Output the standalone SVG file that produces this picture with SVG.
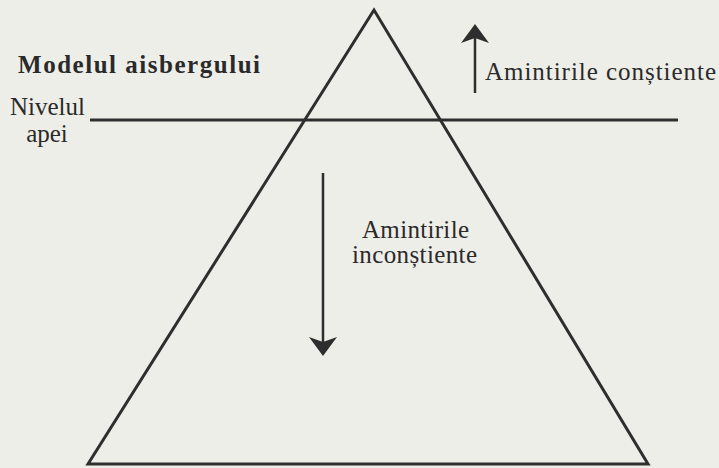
<svg xmlns="http://www.w3.org/2000/svg" width="719" height="468" viewBox="0 0 719 468">
<defs>
<style>
.ln{stroke:#2e2e2e;stroke-width:3;fill:none;stroke-linejoin:miter}
.ar{stroke:#2e2e2e;stroke-width:2.5;fill:none}
.hd{fill:#2e2e2e}
text{font-family:"Liberation Serif","DejaVu Serif",serif;fill:#2a2a2a;font-size:25px}
.b{font-weight:bold}
</style>
</defs>
<rect width="719" height="468" fill="#eeeee8"/>
<g id="iceberg">
<polygon class="ln" points="374,10 88,464 648,464"/>
</g>
<g id="water-level">
<line class="ln" x1="90" y1="120" x2="678" y2="120"/>
<text x="10" y="115" textLength="75">Nivelul</text>
<text x="47" y="142" text-anchor="middle">apei</text>
</g>
<g id="title">
<text class="b" x="18" y="73" textLength="242">Modelul aisbergului</text>
</g>
<g id="conscious">
<text x="485" y="80" textLength="231">Amintirile conștiente</text>
</g>
<g id="unconscious">
<text x="362" y="238" textLength="107">Amintirile</text>
<text x="352" y="263" textLength="125">inconștiente</text>
</g>
<g id="connectors">
<line class="ar" x1="475" y1="93" x2="475" y2="38"/>
<polygon class="hd" points="475,24 461,43 475,38 489,43"/>
<line class="ar" x1="323" y1="173" x2="323" y2="342"/>
<polygon class="hd" points="323,356 309,337 323,342 337,337"/>
</g>
</svg>
